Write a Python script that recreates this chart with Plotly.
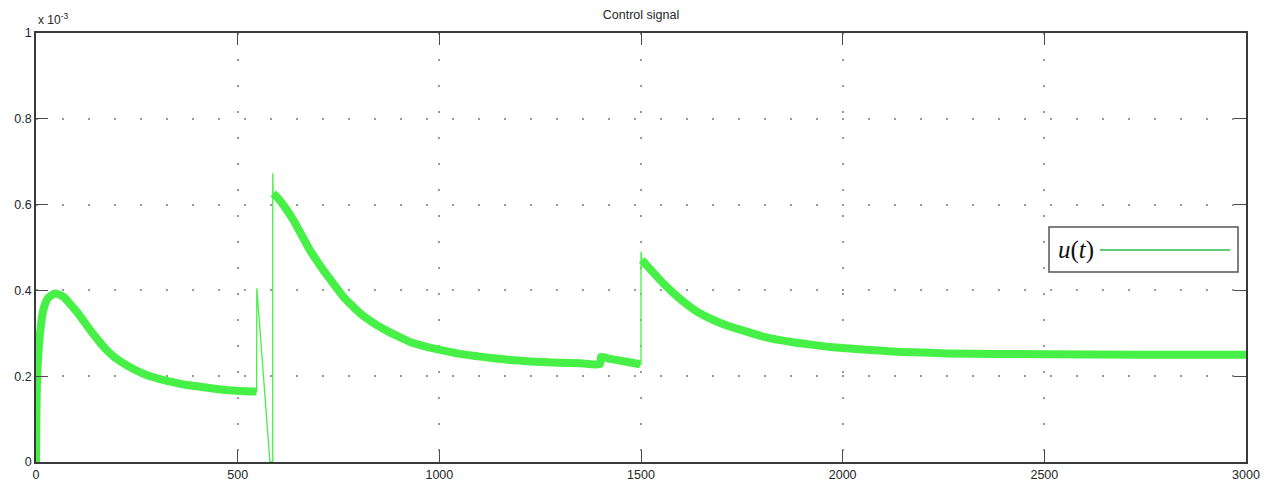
import plotly.graph_objects as go

# Control signal u(t), values in units of 1e-3 (axis multiplier "x 10^-3")
seg1_t = [0, 2, 5, 10, 18, 30, 47, 68, 85, 101, 118, 134, 155, 175, 195, 217, 245,
          274, 305, 340, 370, 407, 470, 547]
seg1_u = [0.0, 0.17, 0.24, 0.30, 0.354, 0.382, 0.393, 0.385, 0.368, 0.350, 0.329,
          0.308, 0.283, 0.261, 0.244, 0.230, 0.215, 0.203, 0.194, 0.186, 0.180,
          0.1755, 0.168, 0.164]

jump1_t = [547, 547.5, 580, 587, 587, 588]
jump1_u = [0.164, 0.405, 0.0, 0.0, 0.673, 0.626]

seg2_t = [588, 600, 620, 638, 658, 679, 700, 721, 742, 762, 783, 803, 824, 845, 866,
          886, 907, 927, 955, 985, 1020, 1051, 1090, 1134, 1175, 1217, 1260, 1299,
          1350, 1398, 1401, 1420, 1450, 1498]
seg2_u = [0.626, 0.615, 0.590, 0.564, 0.530, 0.494, 0.464, 0.436, 0.410, 0.385, 0.365,
          0.347, 0.332, 0.319, 0.308, 0.298, 0.289, 0.280, 0.272, 0.265, 0.258, 0.252,
          0.247, 0.242, 0.238, 0.235, 0.233, 0.2315, 0.230, 0.228, 0.245, 0.241,
          0.236, 0.228]

jump2_t = [1498, 1500, 1500, 1502]
jump2_u = [0.228, 0.226, 0.490, 0.471]

seg3_t = [1502, 1530, 1555, 1580, 1605, 1640, 1679, 1720, 1762, 1800, 1845, 1885, 1927,
          1970, 2010, 2070, 2134, 2200, 2258, 2380, 2500, 2750, 3000]
seg3_u = [0.471, 0.442, 0.4165, 0.394, 0.374, 0.350, 0.331, 0.316, 0.304, 0.293, 0.284,
          0.278, 0.273, 0.268, 0.265, 0.261, 0.257, 0.255, 0.253, 0.252, 0.251, 0.250,
          0.250]

x_ticks = [0, 500, 1000, 1500, 2000, 2500, 3000]
y_ticks = [0, 0.2, 0.4, 0.6, 0.8, 1]

GREEN = "rgb(70,240,70)"
BAND_W = 8
THIN_W = 1.3

fig = go.Figure()
for t, u, w, shape in [(seg1_t, seg1_u, BAND_W, "spline"), (jump1_t, jump1_u, THIN_W, "linear"),
                       (seg2_t, seg2_u, BAND_W, "spline"), (jump2_t, jump2_u, THIN_W, "linear"),
                       (seg3_t, seg3_u, BAND_W, "spline")]:
    line = dict(color=GREEN, width=w, shape=shape)
    if shape == "spline":
        line["smoothing"] = 0.6
    fig.add_trace(go.Scatter(x=t, y=u, mode="lines", line=line,
                             showlegend=False, hoverinfo="skip"))

axis_common = dict(
    showline=True, linecolor="#3a3a3a", linewidth=1.5, mirror="ticks",
    ticks="inside", ticklen=12, tickwidth=1, tickcolor="#4a4a4a",
    showgrid=True, gridcolor="#999999", gridwidth=1.5, griddash="2px,24px",
    zeroline=False, automargin=False,
    tickfont=dict(family="Liberation Sans, Arial", size=12.5, color="#262626"),
)

fig.update_xaxes(range=[0, 3000], tickvals=x_ticks, tickformat="d", **axis_common)
fig.update_yaxes(range=[0, 1], tickvals=y_ticks, **axis_common)

# manual legend (text left of line, as in the reference)
lx0, lx1 = (1049 - 36) / 1210, (1238 - 36) / 1210
ly0, ly1 = (462 - 272) / 429, (462 - 227) / 429
lyc = (462 - 250) / 429
fig.add_shape(type="rect", xref="paper", yref="paper", x0=lx0, x1=lx1, y0=ly0, y1=ly1,
              line=dict(color="#555555", width=1.5), fillcolor="white", layer="above")
fig.add_shape(type="line", xref="paper", yref="paper",
              x0=(1100 - 36) / 1210, x1=(1230 - 36) / 1210, y0=lyc, y1=lyc,
              line=dict(color="rgb(40,190,70)", width=1.5), layer="above")
fig.add_annotation(xref="paper", yref="paper", x=(1076 - 36) / 1210, y=lyc,
                   text="<i>u</i>(<i>t</i>)", showarrow=False,
                   xanchor="center", yanchor="middle",
                   font=dict(family="Liberation Serif, DejaVu Serif", size=25, color="#111"))

# exponent label
fig.add_annotation(xref="paper", yref="paper", x=0, y=1, xanchor="left", yanchor="bottom",
                   yshift=4, text="x 10<sup>-3</sup>", showarrow=False,
                   font=dict(family="Liberation Sans, Arial", size=12, color="#262626"))

fig.update_layout(
    width=1274, height=482,
    margin=dict(l=36, r=28, t=33, b=20),
    paper_bgcolor="white", plot_bgcolor="white",
    title=dict(text="Control signal", x=641 / 1274, xanchor="center",
               y=1 - 15 / 482, yanchor="middle", yref="container",
               font=dict(family="Liberation Sans, Arial", size=12.5, color="#262626")),
    showlegend=False,
)

fig.write_html("out.html")
